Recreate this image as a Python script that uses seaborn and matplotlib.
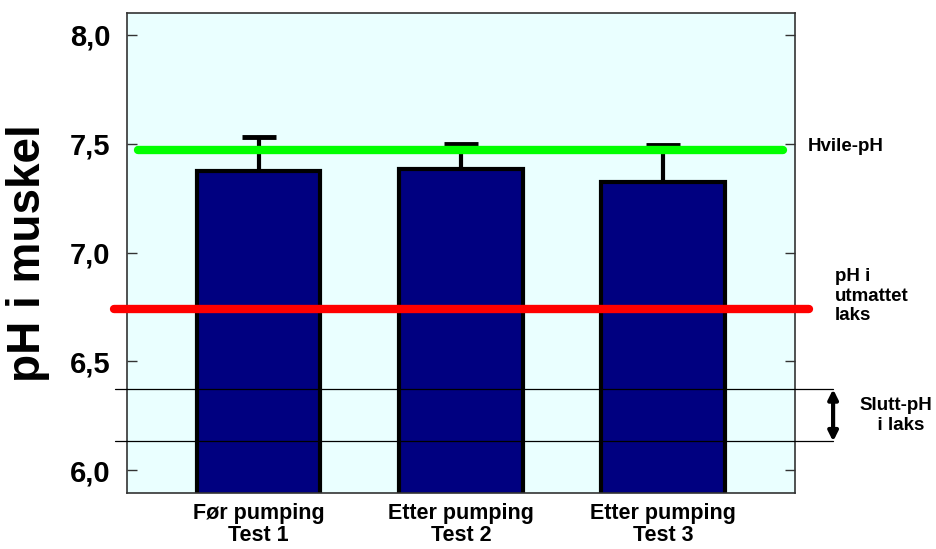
import matplotlib
matplotlib.use('Agg')
import matplotlib.pyplot as plt
import seaborn as sns
import pandas as pd

# data
categories = ['Før pumping\nTest 1', 'Etter pumping\nTest 2', 'Etter pumping\nTest 3']
ph_mean = [7.374, 7.384, 7.324]
ph_err = [0.158, 0.116, 0.170]
rest_ph = 7.471
exhausted_ph = 6.74
final_ph_range = [6.372, 6.132]

df = pd.DataFrame({'group': categories, 'ph': ph_mean})

sns.set_style('ticks')
plt.rcParams['font.family'] = ['Liberation Sans', 'DejaVu Sans']
plt.rcParams['text.color'] = 'black'
plt.rcParams['axes.labelcolor'] = 'black'
plt.rcParams['xtick.color'] = 'black'
plt.rcParams['ytick.color'] = 'black'

fig = plt.figure(figsize=(9.36, 5.49), dpi=100, facecolor='white')
ax = fig.add_axes([0.1357, 0.102, 0.7133, 0.874])
ax.set_facecolor('#eaffff')

# bars
sns.barplot(data=df, x='group', y='ph', color='#000080', width=0.61,
            edgecolor='black', linewidth=3, saturation=1, ax=ax, zorder=2)

# upper error bars only
ax.errorbar(range(len(categories)), ph_mean, yerr=[[0] * 3, ph_err], fmt='none',
            ecolor='black', elinewidth=3, capsize=12, capthick=3.5, zorder=1)

# reference lines
ax.plot([-0.595, 2.59], [rest_ph, rest_ph], color='#00ff00', lw=6,
        solid_capstyle='round', zorder=3)
ax.plot([-0.715, 2.72], [exhausted_ph, exhausted_ph], color='#ff0000', lw=6,
        solid_capstyle='round', zorder=3, clip_on=False)
for v in final_ph_range:
    ax.plot([-0.71, 2.84], [v, v], color='black', lw=0.9, zorder=3, clip_on=False)

# double arrow for final pH
ax.annotate('', xy=(2.84, final_ph_range[1]), xytext=(2.84, final_ph_range[0]),
            arrowprops=dict(arrowstyle='<|-|>', color='black', lw=3,
                            mutation_scale=14, shrinkA=0, shrinkB=0),
            annotation_clip=False)

# side texts
ax.text(2.715, rest_ph + 0.015, 'Hvile-pH', fontsize=13.5, fontweight='bold',
        ha='left', va='center', clip_on=False)
ax.text(2.85, 6.80, 'pH i\nutmattet\nlaks', fontsize=13.5, fontweight='bold',
        ha='left', va='center', linespacing=1.2, clip_on=False)
ax.text(3.15, 6.25, 'Slutt-pH\n  i laks', fontsize=13.5, fontweight='bold',
        ha='center', va='center', linespacing=1.2, clip_on=False)

ax.set_xlim(-0.65, 2.65)
ax.set_ylim(5.895, 8.10)
ax.set_yticks([6.0, 6.5, 7.0, 7.5, 8.0])
ax.set_yticklabels(['6,0', '6,5', '7,0', '7,5', '8,0'], fontsize=21, fontweight='bold')
ax.set_xticklabels(categories, fontsize=15.5, fontweight='bold', linespacing=1.1)
ax.tick_params(axis='y', direction='in', length=7, width=1, pad=12,
               right=True, color='#333333')
ax.tick_params(axis='x', length=0, pad=7)
ax.set_xlabel('')
ax.set_ylabel('pH i muskel', fontsize=33, fontweight='bold', labelpad=14)

for s in ax.spines.values():
    s.set_visible(True)
    s.set_color('#333333')
    s.set_linewidth(1.2)

plt.savefig('out.png', dpi=100, facecolor='white')
